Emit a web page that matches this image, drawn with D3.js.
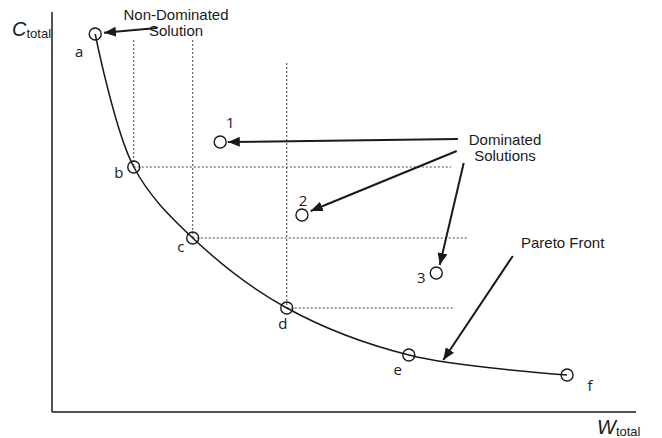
<!DOCTYPE html>
<html>
<head>
<meta charset="utf-8">
<script src="https://cdn.jsdelivr.net/npm/d3@7"></script>
<style>
  html, body { margin: 0; padding: 0; background: #fff; }
  svg { display: block; }
</style>
</head>
<body>
<svg id="chart" width="662" height="438"></svg>
<script>
// Pareto front solutions (W_total, C_total), arbitrary units
const frontLabels = ["a", "b", "c", "d", "e", "f"];
const frontW = [7.4, 14.0, 24.1, 40.2, 61.1, 88.2];
const frontC = [94.5, 61.25, 43.5, 26.0, 14.25, 9.25];

// Dominated solutions
const domLabels = ["1", "2", "3"];
const domW = [28.8, 42.8, 65.8];
const domC = [67.5, 49.25, 34.75];

// Dominance guides: which front points get them and how far they reach
const guideIdx = [1, 2, 3];
const guideTopC = [93, 93, 87.25];
const guideEndW = [68.3, 71.1, 69.0];

// Annotation arrows: [fromW, fromC, toW, toC]
const arrowsData = [
  [18.0, 96.0, 8.9, 94.8],
  [69.5, 68.25, 30.1, 67.5],
  [69.3, 65.25, 44.3, 50.25],
  [70.5, 62.25, 66.4, 36.75],
  [78.9, 39.0, 67.0, 13.0]
];

const svg = d3.select("#chart");
const x = d3.scaleLinear().domain([0, 100]).range([52, 636]);
const y = d3.scaleLinear().domain([0, 100]).range([412, 12]);

const ink = "#1a1a1a";

// axes (plain lines, no ticks)
svg.append("line").attr("x1", x(0)).attr("x2", x(0)).attr("y1", y(100)).attr("y2", y(0))
  .attr("stroke", ink).attr("stroke-width", 1.5);
svg.append("line").attr("x1", x(0)).attr("x2", x(100)).attr("y1", y(0)).attr("y2", y(0))
  .attr("stroke", ink).attr("stroke-width", 1.5);

// dashed dominance guides
const guides = svg.append("g").attr("stroke", "#444").attr("stroke-width", 1)
  .attr("stroke-dasharray", "2,2");
guideIdx.forEach((k, i) => {
  guides.append("line")
    .attr("x1", x(frontW[k])).attr("x2", x(frontW[k]))
    .attr("y1", y(guideTopC[i])).attr("y2", y(frontC[k]));
  guides.append("line")
    .attr("x1", x(frontW[k])).attr("x2", x(guideEndW[i]))
    .attr("y1", y(frontC[k])).attr("y2", y(frontC[k]));
});

// Pareto front curve
const front = frontW.map((w, i) => [w, frontC[i]]);
svg.append("path")
  .datum(front)
  .attr("fill", "none").attr("stroke", ink).attr("stroke-width", 1.5)
  .attr("d", d3.line().x(d => x(d[0])).y(d => y(d[1])).curve(d3.curveCatmullRom.alpha(0.5)));

// arrow heads
svg.append("defs").append("marker")
  .attr("id", "head").attr("viewBox", "0 0 12 10")
  .attr("refX", 12).attr("refY", 5)
  .attr("markerWidth", 12).attr("markerHeight", 10)
  .attr("markerUnits", "userSpaceOnUse")
  .attr("orient", "auto")
  .append("path").attr("d", "M0,0 L12,5 L0,10 Z").attr("fill", ink);

svg.append("g").selectAll("line").data(arrowsData).join("line")
  .attr("x1", d => x(d[0])).attr("y1", d => y(d[1]))
  .attr("x2", d => x(d[2])).attr("y2", d => y(d[3]))
  .attr("stroke", ink).attr("stroke-width", 2)
  .attr("marker-end", "url(#head)");

// solution markers
const r = 6;
svg.append("g").selectAll("circle").data(front).join("circle")
  .attr("cx", d => x(d[0])).attr("cy", d => y(d[1])).attr("r", r)
  .attr("fill", "none").attr("stroke", ink).attr("stroke-width", 1.4);
svg.append("g").selectAll("circle").data(domW.map((w, i) => [w, domC[i]])).join("circle")
  .attr("cx", d => x(d[0])).attr("cy", d => y(d[1])).attr("r", r)
  .attr("fill", "#fff").attr("stroke", ink).attr("stroke-width", 1.4);

// point labels
const labelFont = "'Open Sans', 'Noto Sans', sans-serif";
const frontOff = [[-16, 18], [-15, 6], [-12, 9], [-4, 16], [-11, 15], [23, 11]];
svg.append("g").selectAll("text").data(frontLabels).join("text")
  .attr("x", (d, i) => x(frontW[i]) + frontOff[i][0])
  .attr("y", (d, i) => y(frontC[i]) + frontOff[i][1] + 5)
  .attr("font-family", labelFont).attr("font-size", 15).attr("fill", ink)
  .attr("text-anchor", "middle").text(d => d);
const domOff = [[10, -19], [1, -14], [-15, 5]];
svg.append("g").selectAll("text").data(domLabels).join("text")
  .attr("x", (d, i) => x(domW[i]) + domOff[i][0])
  .attr("y", (d, i) => y(domC[i]) + domOff[i][1] + 5)
  .attr("font-family", labelFont).attr("font-size", 15).attr("fill", ink)
  .attr("text-anchor", "middle").text(d => d);

// annotation texts
const noteFont = "'Liberation Sans', Arial, sans-serif";
function note(lines, cx, cy, anchor) {
  const t = svg.append("text").attr("font-family", noteFont).attr("font-size", 15)
    .attr("fill", ink).attr("text-anchor", anchor || "middle");
  lines.forEach((s, i) => t.append("tspan").attr("x", cx).attr("y", cy + i * 16).text(s));
}
note(["Non-Dominated", "Solution"], 176, 20);
note(["Dominated", "Solutions"], 505, 145);
note(["Pareto Front"], 521, 248, "start");

// axis titles
const ct = svg.append("text").attr("font-family", noteFont).attr("fill", ink).attr("x", 12).attr("y", 36);
ct.append("tspan").attr("font-size", 20).attr("font-style", "italic").text("C");
ct.append("tspan").attr("font-size", 13).attr("dy", 2).text("total");
const wt = svg.append("text").attr("font-family", noteFont).attr("fill", ink).attr("x", 597).attr("y", 434);
wt.append("tspan").attr("font-size", 20).attr("font-style", "italic").text("W");
wt.append("tspan").attr("font-size", 13).attr("dy", 2).text("total");
</script>
</body>
</html>
